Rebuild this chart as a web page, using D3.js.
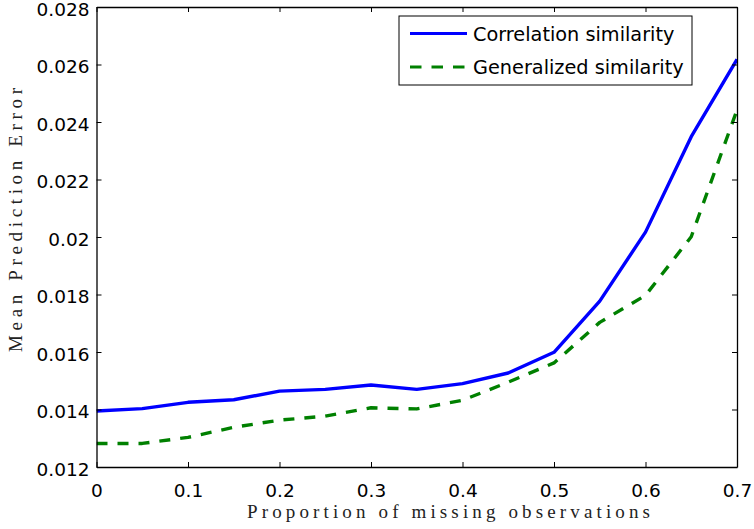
<!DOCTYPE html>
<html>
<head>
<meta charset="utf-8">
<script src="https://cdn.jsdelivr.net/npm/d3@7"></script>
<style>
  html, body { margin: 0; padding: 0; background: #fff; }
  svg { display: block; }
</style>
</head>
<body>
<svg id="chart" width="754" height="529"></svg>
<script>
// ---- data ----
const proportions = [0, 0.05, 0.1, 0.15, 0.2, 0.25, 0.3, 0.35, 0.4, 0.45, 0.5, 0.55, 0.6, 0.65, 0.7];
const correlationSimilarity = [0.01395, 0.01403, 0.01425, 0.01434, 0.01464, 0.01470, 0.01485, 0.01470, 0.01490, 0.01527, 0.01599, 0.01777, 0.02017, 0.02349, 0.02618];
const generalizedSimilarity = [0.01282, 0.01282, 0.01303, 0.01338, 0.01363, 0.01377, 0.01406, 0.01402, 0.01432, 0.01495, 0.01562, 0.01703, 0.01797, 0.02001, 0.02442];
const xTicks = [0, 0.1, 0.2, 0.3, 0.4, 0.5, 0.6, 0.7];
const xTickLabels = ["0", "0.1", "0.2", "0.3", "0.4", "0.5", "0.6", "0.7"];
const yTicks = [0.012, 0.014, 0.016, 0.018, 0.02, 0.022, 0.024, 0.026, 0.028];
const yTickLabels = ["0.012", "0.014", "0.016", "0.018", "0.02", "0.022", "0.024", "0.026", "0.028"];
const seriesNames = ["Correlation similarity", "Generalized similarity"];
const seriesColors = ["#0000ff", "#008000"];
const xLabel = "Proportion of missing observations";
const yLabel = "Mean Prediction Error";

// ---- layout ----
const L = 96.5, R = 737, T = 7, B = 467;
const svg = d3.select("#chart");
const x = d3.scaleLinear().domain([0, 0.7]).range([L, R]);
const y = d3.scaleLinear().domain([0.012, 0.028]).range([B, T]);
const sansFont = "'DejaVu Sans', 'Liberation Sans', Arial, sans-serif";
const serifFont = "'Liberation Serif', 'DejaVu Serif', serif";

// clip
svg.append("clipPath").attr("id", "clip")
  .append("rect").attr("x", L).attr("y", T).attr("width", R - L).attr("height", B - T);

// lines
const series = [correlationSimilarity, generalizedSimilarity];
const line = d3.line().x((d, i) => x(proportions[i])).y(d => y(d));
series.forEach((vals, si) => {
  svg.append("path")
    .attr("clip-path", "url(#clip)")
    .attr("d", line(vals))
    .attr("fill", "none")
    .attr("stroke", seriesColors[si])
    .attr("stroke-width", 3.4)
    .attr("stroke-linejoin", "round")
    .attr("stroke-dasharray", si === 1 ? "11,10" : null);
});

// axes (ticks inward)
const tickLen = 5;
const fmtX = (d, i) => xTickLabels[i];
const fmtY = (d, i) => yTickLabels[i];
const gx = svg.append("g").attr("transform", `translate(0,${B})`)
  .call(d3.axisBottom(x).tickValues(xTicks).tickFormat(fmtX).tickSizeInner(-tickLen).tickSizeOuter(0).tickPadding(17));
const gxt = svg.append("g").attr("transform", `translate(0,${T})`)
  .call(d3.axisTop(x).tickValues(xTicks).tickFormat("").tickSizeInner(-tickLen).tickSizeOuter(0));
const gy = svg.append("g").attr("transform", `translate(${L},0)`)
  .call(d3.axisLeft(y).tickValues(yTicks).tickFormat(fmtY).tickSizeInner(-tickLen).tickSizeOuter(0).tickPadding(7));
const gyr = svg.append("g").attr("transform", `translate(${R},0)`)
  .call(d3.axisRight(y).tickValues(yTicks).tickFormat("").tickSizeInner(-tickLen).tickSizeOuter(0));

[gx, gxt, gy, gyr].forEach(g => {
  g.select(".domain").attr("stroke", "#000").attr("stroke-width", 1.3);
  g.selectAll(".tick line").attr("stroke", "#000").attr("stroke-width", 1);
  g.selectAll(".tick text").attr("fill", "#000").attr("font-family", sansFont).attr("font-size", 18.5);
});
gx.selectAll(".tick text").attr("dy", "0.71em");
gy.selectAll(".tick text").attr("dy", "0.45em");

// axis labels
svg.append("text")
  .attr("x", 448.5).attr("y", 518)
  .attr("text-anchor", "middle")
  .attr("font-family", serifFont).attr("font-size", 19)
  .attr("textLength", 403).attr("lengthAdjust", "spacing")
  .attr("fill", "#222")
  .text(xLabel);
svg.append("text")
  .attr("transform", `translate(21.5,220) rotate(-90)`)
  .attr("text-anchor", "middle")
  .attr("font-family", serifFont).attr("font-size", 19)
  .attr("textLength", 264).attr("lengthAdjust", "spacing")
  .attr("fill", "#222")
  .text(yLabel);

// legend
const lg = svg.append("g");
lg.append("rect").attr("x", 399).attr("y", 16).attr("width", 293).attr("height", 69)
  .attr("fill", "#fff").attr("stroke", "#000").attr("stroke-width", 1);
const rowY = [33.5, 67];
seriesNames.forEach((name, i) => {
  lg.append("line").attr("x1", 410).attr("x2", 467).attr("y1", rowY[i]).attr("y2", rowY[i])
    .attr("stroke", seriesColors[i]).attr("stroke-width", 3.2)
    .attr("stroke-dasharray", i === 1 ? "11.5,10" : null);
  lg.append("text").attr("x", 473).attr("y", rowY[i]).attr("dy", "0.37em")
    .attr("font-family", sansFont).attr("font-size", 19.3).attr("fill", "#000")
    .text(name);
});
</script>
</body>
</html>
